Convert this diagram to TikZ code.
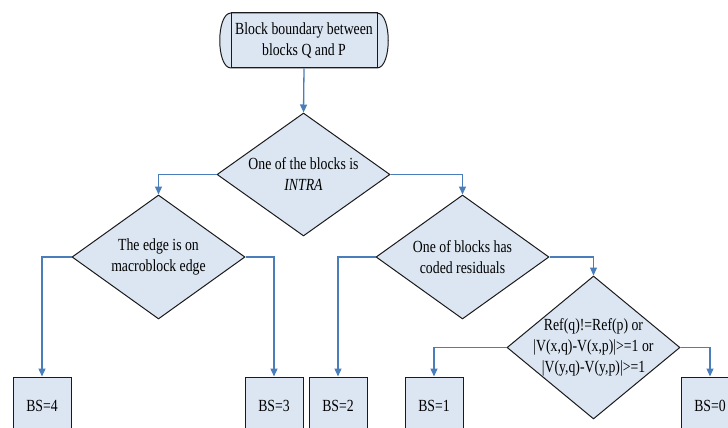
\documentclass[tikz,border=0pt]{standalone}
\usepackage{fontspec}
\setmainfont{Liberation Serif}[FakeStretch=0.81]
\usetikzlibrary{shapes.geometric,arrows.meta}
\definecolor{boxfill}{HTML}{DCE6F2}
\definecolor{arrowblue}{HTML}{4A7EBB}
\definecolor{edgegray}{HTML}{1A1A1A}
\tikzset{
  dec/.style={diamond,draw=edgegray,fill=boxfill,line width=1pt,inner sep=0pt,minimum width=173pt},
  bsbox/.style={rectangle,draw=edgegray,fill=boxfill,line width=1pt,minimum width=58pt,minimum height=58pt,inner sep=0pt},
  flow/.style={draw=arrowblue,line width=1.3pt,-{Triangle[width=7pt,length=8pt]}},
  txt/.style={align=center,font=\fontsize{17}{21}\selectfont}
}
\begin{document}
\begin{tikzpicture}[x=1pt,y=-1pt]
\useasboundingbox (0,0) rectangle (728,428);
\clip (0,0) rectangle (728,428);
% start terminal
\path[fill=boxfill,draw=edgegray,line width=1pt] (231,13) -- (377,13) .. controls (392,13) and (392,68) .. (377,68) -- (231,68) .. controls (216,68) and (216,13) .. (231,13) -- cycle;
\node[rectangle,draw=edgegray,line width=1pt,minimum width=146pt,minimum height=55pt,inner sep=0pt,txt] (start) at (304,40.5) {Block boundary between\\blocks Q and P};
% decisions
\node[dec,minimum height=123pt,label={[txt]center:One of the blocks is\\\textit{INTRA}}] (d1) at (303.5,174.5) {};
\node[dec,minimum height=124pt,label={[txt]center:The edge is on\\macroblock edge}] (d2) at (158.5,257) {};
\node[dec,minimum height=124pt,label={[txt]center:One of blocks has\\coded residuals}] (d3) at (462.5,257) {};
\node[dec,minimum height=143pt,label={[txt]center:Ref(q)!=Ref(p) or\\|V(x,q)-V(x,p)|>=1 or\\|V(y,q)-V(y,p)|>=1}] (d4) at (593.5,347.5) {};
% results
\node[bsbox,txt] (bs4) at (42,406) {BS=4};
\node[bsbox,txt] (bs3) at (274,406) {BS=3};
\node[bsbox,txt] (bs2) at (338,406) {BS=2};
\node[bsbox,txt] (bs1) at (434,406) {BS=1};
\node[bsbox,txt] (bs0) at (710,406) {BS=0};
% connectors
\draw[flow] (start.south) -- (d1.north);
\draw[flow] (d1.west) -| (d2.north);
\draw[flow] (d1.east) -| (d3.north);
\draw[flow] (d2.west) -| (bs4.north);
\draw[flow] (d2.east) -| (bs3.north);
\draw[flow] (d3.west) -| (bs2.north);
\draw[flow] (d3.east) -| (d4.north);
\draw[flow] (d4.west) -| (bs1.north);
\draw[flow] (d4.east) -| (bs0.north);
\end{tikzpicture}
\end{document}
